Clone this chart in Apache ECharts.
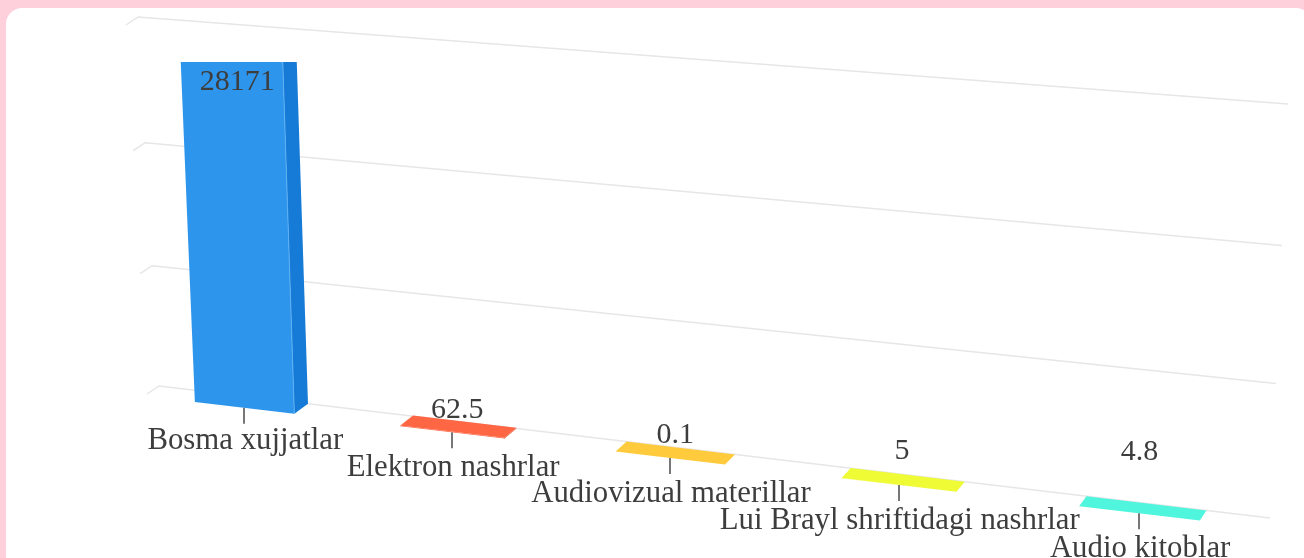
<!DOCTYPE html>
<html>
<head>
<meta charset="utf-8">
<title>Nashrlar</title>
<style>
  html,body{margin:0;padding:0;width:1304px;height:558px;overflow:hidden;background:#fdd0dc;}
  #card{position:absolute;left:6px;top:8px;width:1306px;height:600px;background:#fff;border-radius:16px;}
  #main{position:absolute;left:0;top:0;width:1304px;height:558px;}
</style>
</head>
<body>
<div id="card"></div>
<div id="main"></div>
<script src="https://cdn.jsdelivr.net/npm/echarts@6/dist/echarts.min.js"></script>
<script>
var categories=['Bosma xujjatlar','Elektron nashrlar','Audiovizual materillar','Lui Brayl shriftidagi nashrlar','Audio kitoblar'];
var barValues=[28171,62.5,0.1,5,4.8];
var barColors=['#2e95ec','#ff6644','#ffcb3d','#eefb35','#50f5de'];
var sideColors=['#167bd6','#e0512f','#e0ad2a','#cfdb22','#3bd8c2'];
var seamColors=['#5fb0f2','#ff6644','#ffcb3d','#eefb35','#50f5de'];
var gridValues=[0,10000,20000,30000];

/*背面墙四个角,透视变换*/
var P00=[159,386],P10=[1270,518],P01=[138,17],P11=[1288,104];
var persp=(function(){
    var dx1=P10[0]-P11[0],dx2=P01[0]-P11[0],sx=P00[0]-P10[0]+P11[0]-P01[0];
    var dy1=P10[1]-P11[1],dy2=P01[1]-P11[1],sy=P00[1]-P10[1]+P11[1]-P01[1];
    var d=dx1*dy2-dx2*dy1;
    var g=(sx*dy2-dx2*sy)/d,h=(dx1*sy-sx*dy1)/d;
    return {
        a:P10[0]-P00[0]+g*P10[0],b:P01[0]-P00[0]+h*P01[0],c:P00[0],
        d:P10[1]-P00[1]+g*P10[1],e:P01[1]-P00[1]+h*P01[1],f:P00[1],
        g:g,h:h
    };
})();
// u:横向0-1 v:纵向0-1 z:0在墙上,1在柱子前面
function project(u,v,z){
    var w=persp.g*u+persp.h*v+1;
    return [
        (persp.a*u+persp.b*v+persp.c)/w+z*(-15+9*u),
        (persp.d*u+persp.e*v+persp.f)/w+z*10
    ];
}
// 柱子比墙竖得更直一点
function barPoint(u,v,z){
    var p=project(u,v,z);
    return [p[0]+4*v,p[1]];
}
function toUV(pt,cs){
    return [(pt[0]-cs.x)/cs.width,(cs.y+cs.height-pt[1])/cs.height];
}

var BAR_RATIO=0.49;
// 数值标签相对柱顶中心的偏移
var labelShift=[[-1,-29],[-1,16],[0,18],[-1,29],[-3,56]];
// 类目文字在刻度脚下的距离
var labelDrop=[33,36,36,36,36];

function renderWall(params,api){
    var cs=params.coordSys;
    var v=toUV(api.coord([0,api.value(0)]),cs)[1];
    return {
        type:'polyline',silent:true,
        shape:{points:[project(0,v,0.8),project(0,v,0),project(1,v,0)]},
        style:{fill:null,stroke:'#e6e6e6',lineWidth:1.5}
    };
}

function renderBar(params,api){
    var cs=params.coordSys,i=params.dataIndex;
    var uv=toUV(api.coord([api.value(0),api.value(1)]),cs);
    var half=api.size([1,0])[0]*BAR_RATIO/2/cs.width;
    var l=uv[0]-half,r=uv[0]+half,v=uv[1];
    return {
        type:'group',
        children:[
            {type:'polygon',shape:{points:[barPoint(r,0,1),barPoint(r,0,0),barPoint(r,v,0),barPoint(r,v,1)]},style:{fill:sideColors[i]}},
            {type:'polygon',shape:{points:[barPoint(l,0,1),barPoint(r,0,1),barPoint(r,v,1),barPoint(l,v,1)]},style:{fill:barColors[i]}},
            {type:'polygon',shape:{points:[barPoint(l,v,1),barPoint(r,v,1),barPoint(r,v,0),barPoint(l,v,0)]},style:{fill:barColors[i]}},
            {type:'polyline',shape:{points:[barPoint(r,0,1),barPoint(r,v,1)]},style:{fill:null,stroke:seamColors[i],lineWidth:1}}
        ]
    };
}

function renderLabel(params,api){
    var cs=params.coordSys,i=params.dataIndex;
    var uv=toUV(api.coord([api.value(0),api.value(1)]),cs);
    var foot=project(uv[0],0,1);
    var top=barPoint(uv[0],uv[1],0.5);
    var tx=Math.round(foot[0]);
    return {
        type:'group',silent:true,
        children:[
            {type:'line',shape:{x1:tx,y1:foot[1],x2:tx,y2:foot[1]+16},style:{stroke:'#777',lineWidth:2}},
            {type:'text',x:foot[0]+1,y:foot[1]+labelDrop[i],style:{text:categories[i],font:'30.8px "Liberation Serif"',fill:'#3d3d3d',align:'center',verticalAlign:'middle'}},
            {type:'text',x:top[0]+labelShift[i][0],y:top[1]-labelShift[i][1],style:{text:String(api.value(1)),font:'30px "Liberation Serif"',fill:'#3d3d3d',align:'center',verticalAlign:'middle'}}
        ]
    };
}

var barData=barValues.map(function(v,i){return [i,v];});
var myChart=echarts.init(document.getElementById('main'));
myChart.setOption({
    animation:false,
    backgroundColor:'transparent',
    // grid顶部就是柱子被裁掉的位置
    grid:{left:0,right:0,top:62,bottom:0},
    xAxis:{type:'category',data:categories,show:false},
    yAxis:{type:'value',min:0,max:30000,interval:10000,show:false},
    series:[
        {type:'custom',name:'wall',clip:false,data:gridValues.map(function(v){return [v];}),encode:{y:0},renderItem:renderWall,z:1},
        {type:'custom',name:'bars',clip:true,data:barData,encode:{x:0,y:1},renderItem:renderBar,z:2},
        {type:'custom',name:'labels',clip:false,data:barData,encode:{x:0,y:1},renderItem:renderLabel,z:3}
    ]
});
</script>
</body>
</html>
